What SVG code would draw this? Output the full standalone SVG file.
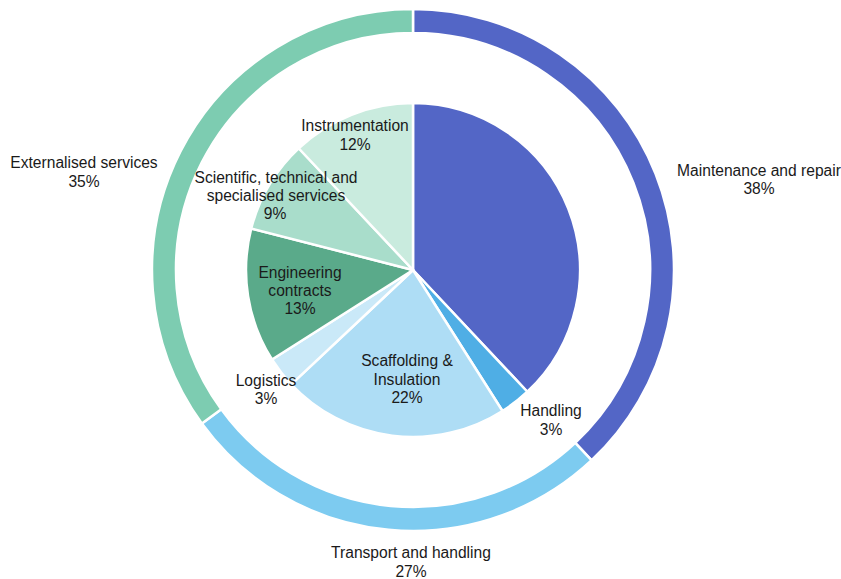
<svg xmlns="http://www.w3.org/2000/svg" width="841" height="579" viewBox="0 0 841 579">
<style>
text{font-family:"Liberation Sans",Arial,Helvetica,sans-serif;font-size:15.6px;fill:#1a1a1a;text-anchor:middle}
.seg{stroke:#fff;stroke-width:2.5;stroke-linejoin:round}
</style>
<rect width="841" height="579" fill="#fff"/>
<g id="ring">
<g id="maintenance-outer"><path class="seg" fill="#5366C6" d="M413 9A261 261 0 0 1 591.65 460.27L575.23 442.77A237 237 0 0 0 413 33Z"/></g>
<g id="transport-outer"><path class="seg" fill="#7DCBF0" d="M591.65 460.27A261 261 0 0 1 201.85 423.42L221.27 409.31A237 237 0 0 0 575.23 442.77Z"/></g>
<g id="externalised-outer"><path class="seg" fill="#7DCCB1" d="M201.85 423.42A261 261 0 0 1 413 9L413 33A237 237 0 0 0 221.27 409.31Z"/></g>
</g>
<g id="pie">
<g id="maintenance"><path class="seg" fill="#5366C6" d="M413 270L413 103A167 167 0 0 1 527.31 391.74Z"/></g>
<g id="handling"><path class="seg" fill="#4FAEE5" d="M413 270L527.31 391.74A167 167 0 0 1 502.48 411Z"/></g>
<g id="scaffolding"><path class="seg" fill="#AEDDF5" d="M413 270L502.48 411A167 167 0 0 1 291.26 384.31Z"/></g>
<g id="logistics"><path class="seg" fill="#CAE9F8" d="M413 270L291.26 384.31A167 167 0 0 1 272 359.48Z"/></g>
<g id="engineering"><path class="seg" fill="#5AAA8A" d="M413 270L272 359.48A167 167 0 0 1 251.24 228.47Z"/></g>
<g id="scientific"><path class="seg" fill="#A9DDCB" d="M413 270L251.24 228.47A167 167 0 0 1 298.69 148.26Z"/></g>
<g id="instrumentation"><path class="seg" fill="#C9EBDE" d="M413 270L298.69 148.26A167 167 0 0 1 413 103Z"/></g>
</g>
<g id="labels">
<text x="84" y="168">Externalised services</text>
<text x="84" y="187">35%</text>
<text x="759" y="176">Maintenance and repair</text>
<text x="759" y="194">38%</text>
<text x="411" y="558">Transport and handling</text>
<text x="411" y="577">27%</text>
<text x="551" y="416">Handling</text>
<text x="551" y="435">3%</text>
<text x="266" y="386">Logistics</text>
<text x="266" y="404">3%</text>
<text x="407" y="366">Scaffolding &amp;</text>
<text x="407" y="385">Insulation</text>
<text x="407" y="403">22%</text>
<text x="300" y="278">Engineering</text>
<text x="300" y="296">contracts</text>
<text x="300" y="314">13%</text>
<text x="276" y="183">Scientific, technical and</text>
<text x="276" y="201">specialised services</text>
<text x="275" y="219">9%</text>
<text x="355" y="131">Instrumentation</text>
<text x="355" y="150">12%</text>
</g>
</svg>
